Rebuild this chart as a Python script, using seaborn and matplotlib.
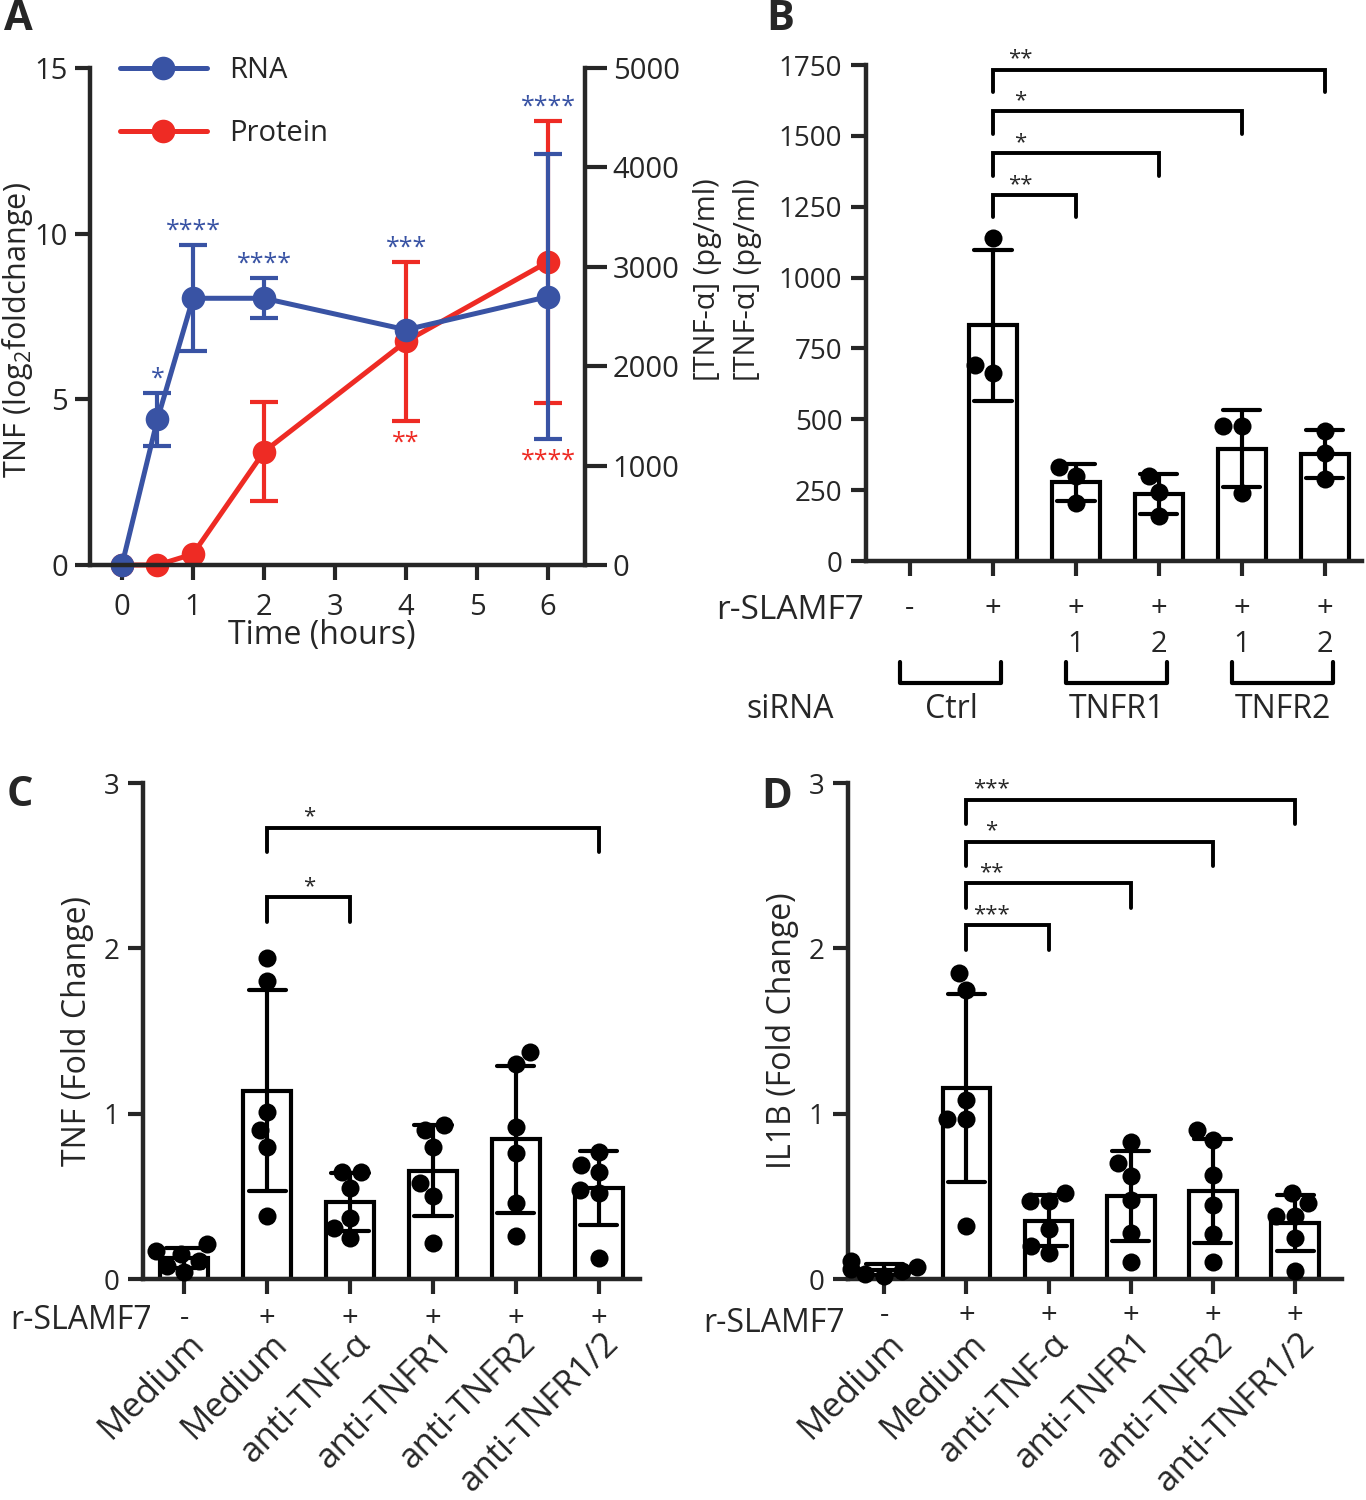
import numpy as np
import pandas as pd
import matplotlib
matplotlib.use("Agg")
import matplotlib.pyplot as plt
import matplotlib.transforms as mtransforms
import seaborn as sns

sns.set_theme(style="ticks")
plt.rcParams['font.family'] = ['Open Sans', 'DejaVu Sans']
plt.rcParams['mathtext.default'] = 'regular'
plt.rcParams['axes.linewidth'] = 3.2

# ---- Panel A: time course ----
time_h = [0, 0.5, 1, 2, 4, 6]
rna_mean = [0, 4.4, 8.05, 8.05, 7.1, 8.1]
rna_sd = [0, 0.8, 1.6, 0.6, 0, 4.3]
rna_stars = ['', '*', '****', '****', '***', '****']
protein_mean = [0, 0, 110, 1140, 2250, 3050]
protein_sd = [0, 0, 0, 500, 800, 1420]
protein_stars = ['', '', '', '', '**', '****']

# ---- Panel B: siRNA knockdown, TNF-a protein ----
b_groups = ['ctrl_neg', 'ctrl_pos', 'tnfr1_1', 'tnfr1_2', 'tnfr2_1', 'tnfr2_2']
b_slamf7 = ['-', '+', '+', '+', '+', '+']
b_sirna_no = ['', '', '1', '2', '1', '2']
b_sirna_groups = [('Ctrl', 0, 1), ('TNFR1', 2, 3), ('TNFR2', 4, 5)]
b_ctrl_pos = [1140, 665, 690]
b_tnfr1_1 = [330, 300, 205]
b_tnfr1_2 = [300, 245, 160]
b_tnfr2_1 = [475, 475, 240]
b_tnfr2_2 = [460, 380, 290]
b_sig = [(1, 2, '**'), (1, 3, '*'), (1, 4, '*'), (1, 5, '**')]

# ---- Panels C / D: blocking antibodies ----
cd_groups = ['Medium', 'Medium ', 'anti-TNF-α', 'anti-TNFR1', 'anti-TNFR2', 'anti-TNFR1/2']
cd_slamf7 = ['-', '+', '+', '+', '+', '+']
c_medium_neg = [0.04, 0.08, 0.11, 0.15, 0.17, 0.21]
c_medium_pos = [1.94, 1.80, 1.01, 0.90, 0.80, 0.38]
c_anti_tnfa = [0.65, 0.65, 0.55, 0.37, 0.31, 0.25]
c_anti_tnfr1 = [0.93, 0.90, 0.80, 0.58, 0.50, 0.22]
c_anti_tnfr2 = [1.37, 1.30, 0.92, 0.76, 0.46, 0.26]
c_anti_tnfr12 = [0.77, 0.69, 0.65, 0.54, 0.52, 0.13]
c_sig = [(1, 2, '*'), (1, 5, '*')]
d_medium_neg = [0.02, 0.03, 0.05, 0.06, 0.07, 0.11]
d_medium_pos = [1.85, 1.75, 1.08, 0.97, 0.97, 0.32]
d_anti_tnfa = [0.52, 0.47, 0.47, 0.30, 0.20, 0.16]
d_anti_tnfr1 = [0.83, 0.70, 0.62, 0.48, 0.28, 0.10]
d_anti_tnfr2 = [0.90, 0.84, 0.63, 0.45, 0.27, 0.10]
d_anti_tnfr12 = [0.52, 0.46, 0.38, 0.38, 0.25, 0.05]
d_sig = [(1, 2, '***'), (1, 3, '**'), (1, 4, '*'), (1, 5, '***')]

BLUE = '#3953a4'
RED = '#ee2b24'
W, H = 1366, 1500


def box(l, t, r, b):
    return [l / W, 1 - b / H, (r - l) / W, (b - t) / H]


def long_df(groups, series):
    rows = []
    for g, vals in zip(groups, series):
        for v in vals:
            rows.append((g, v))
    return pd.DataFrame(rows, columns=['group', 'value'])


def bar_dots(ax, df, order, dot=13):
    sns.barplot(data=df, x='group', y='value', order=order, errorbar='sd',
                capsize=0.45, width=0.58, color='white', edgecolor='black',
                linewidth=3, err_kws={'color': 'black', 'linewidth': 3},
                ax=ax)
    sns.swarmplot(data=df, x='group', y='value', order=order, color='black',
                  size=dot, ax=ax, clip_on=False)
    sns.despine(ax=ax)
    ax.set_xticks(range(len(order)))
    ax.set_xticklabels([])
    ax.set_xlabel('')
    ax.tick_params(axis='both', length=11, width=3, labelsize=20, pad=6)


def sig_brackets(ax, pairs, base, step, leg, star_dx, fs=16):
    for i, (a, b, lab) in enumerate(pairs):
        y = base + i * step
        ax.plot([a, a, b, b], [y - leg, y, y, y - leg], color='black', lw=2.8,
                clip_on=False, solid_joinstyle='miter')
        ax.text(a + star_dx, y, lab, ha='center', va='bottom', fontsize=fs)


fig = plt.figure(figsize=(W / 100, H / 100), dpi=100)

# ================= Panel A =================
axA = fig.add_axes(box(90, 68, 585, 565))
axP = axA.twinx()
axA.set_zorder(axP.get_zorder() + 1)
axA.patch.set_visible(False)

sns.lineplot(x=time_h, y=protein_mean, ax=axP, color=RED, marker='o',
             markersize=17, markeredgewidth=0, linewidth=3.6, clip_on=False,
             label='Protein', legend=False)
pi = [i for i, s in enumerate(protein_sd) if s > 0]
axP.errorbar([time_h[i] for i in pi], [protein_mean[i] for i in pi],
             yerr=[protein_sd[i] for i in pi], fmt='none', ecolor=RED,
             elinewidth=3, capsize=10, capthick=3, clip_on=False)
sns.lineplot(x=time_h, y=rna_mean, ax=axA, color=BLUE, marker='o',
             markersize=17, markeredgewidth=0, linewidth=3.6, clip_on=False,
             label='RNA', legend=False)
ri = [i for i, s in enumerate(rna_sd) if s > 0]
axA.errorbar([time_h[i] for i in ri], [rna_mean[i] for i in ri],
             yerr=[rna_sd[i] for i in ri], fmt='none', ecolor=BLUE,
             elinewidth=3, capsize=10, capthick=3, clip_on=False)

axA.set_xlim(-0.45, 6.52)
axA.set_ylim(0, 15)
axP.set_ylim(0, 5000)
axA.set_xticks(range(7))
axA.set_yticks([0, 5, 10, 15])
axP.set_yticks(range(0, 5001, 1000))
axA.spines['top'].set_visible(False)
axP.spines['top'].set_visible(False)
axA.spines['right'].set_visible(False)
axP.spines['left'].set_visible(False)
axP.spines['bottom'].set_visible(False)
axA.tick_params(axis='both', length=11, width=3, labelsize=21, pad=5)
axA.tick_params(axis='x', pad=9)
axP.tick_params(axis='y', length=16, width=3, labelsize=21, pad=4)
axA.set_xlabel('')
axA.set_ylabel('')
fig.text(322 / W, 1 - 636 / H, 'Time (hours)', ha='center', va='center',
         fontsize=23)
fig.text(18 / W, 1 - 330 / H, 'TNF (log$_2$foldchange)', rotation=90,
         ha='center', va='center', fontsize=22)

scale = 15 / 5000
for t, m, s, pm, ps, lab in zip(time_h, rna_mean, rna_sd, protein_mean,
                                protein_sd, rna_stars):
    if lab:
        top = max(m + s, (pm + ps) * scale)
        axA.annotate(lab, (t, top), xytext=(0, 1), textcoords='offset points',
                     ha='center', va='bottom', color=BLUE, fontsize=18)
for t, m, s, pm, ps, lab in zip(time_h, rna_mean, rna_sd, protein_mean,
                                protein_sd, protein_stars):
    if lab:
        bot = min(m - s, (pm - ps) * scale)
        axA.annotate(lab, (t, bot), xytext=(0, -7), textcoords='offset points',
                     ha='center', va='top', color=RED, fontsize=18)

handles = [axA.get_lines()[0], axP.get_lines()[0]]
axA.legend(handles, ['RNA', 'Protein'], loc='upper left',
           bbox_to_anchor=(0.06, 1.024), frameon=False, fontsize=21,
           handlelength=3.0, handletextpad=0.75, labelspacing=1.17,
           borderaxespad=0, borderpad=0)

fig.text(708 / W, 1 - 280 / H, '[TNF-α] (pg/ml)', rotation=90, ha='center',
         va='center', fontsize=21)

# ================= Panel B =================
axB = fig.add_axes(box(866, 65, 1362, 561))
df_b = long_df(b_groups[1:], [b_ctrl_pos, b_tnfr1_1, b_tnfr1_2, b_tnfr2_1,
                              b_tnfr2_2])
bar_dots(axB, df_b, b_groups)
axB.set_ylim(0, 1750)
axB.set_yticks(range(0, 1751, 250))
axB.set_xlim(-0.53, 5.45)
axB.set_ylabel('')
sig_brackets(axB, b_sig, base=1290, step=148, leg=78, star_dx=0.33)
fig.text(748 / W, 1 - 280 / H, '[TNF-α] (pg/ml)', rotation=90, ha='center',
         va='center', fontsize=21)

trB = mtransforms.blended_transform_factory(axB.transData, axB.transAxes)
for i, (s, n) in enumerate(zip(b_slamf7, b_sirna_no)):
    axB.text(i, -0.095, s, transform=trB, ha='center', va='center', fontsize=21)
    if n:
        axB.text(i, -0.169, n, transform=trB, ha='center', va='center',
                 fontsize=21)
for lab, a, b in b_sirna_groups:
    axB.plot([a - 0.12, a - 0.12, b + 0.1, b + 0.1],
             [-0.204, -0.246, -0.246, -0.204], transform=trB, color='black',
             lw=3, clip_on=False)
    axB.text((a + b) / 2, -0.30, lab, transform=trB, ha='center', va='center',
             fontsize=23)
axB.text(-0.153, -0.10, 'r-SLAMF7', transform=axB.transAxes, ha='center',
         va='center', fontsize=24)
axB.text(-0.153, -0.30, 'siRNA', transform=axB.transAxes, ha='center',
         va='center', fontsize=23)


# ================= Panels C and D =================
def cd_panel(ax, series, ylabel, pairs, base, step, star_dx, sign_y):
    df = long_df(cd_groups, series)
    bar_dots(ax, df, cd_groups)
    ax.set_ylim(0, 3)
    ax.set_yticks([0, 1, 2, 3])
    ax.set_ylabel(ylabel, fontsize=23, labelpad=7)
    sig_brackets(ax, pairs, base=base, step=step, leg=0.15, star_dx=star_dx)
    tr = mtransforms.blended_transform_factory(ax.transData, ax.transAxes)
    for i, (s, g) in enumerate(zip(cd_slamf7, cd_groups)):
        ax.text(i, sign_y, s, transform=tr, ha='center', va='center',
                fontsize=21)
        ax.text(i + 0.18, -0.12, g.strip(), transform=tr, ha='right',
                va='center', rotation=45, rotation_mode='anchor', fontsize=25)


axC = fig.add_axes(box(143, 783, 640, 1279))
cd_panel(axC, [c_medium_neg, c_medium_pos, c_anti_tnfa, c_anti_tnfr1,
               c_anti_tnfr2, c_anti_tnfr12], 'TNF (Fold Change)', c_sig,
         base=2.31, step=0.42, star_dx=0.5, sign_y=-0.079)
axC.set_xlim(-0.5, 5.5)
axC.text(-0.125, -0.083, 'r-SLAMF7', transform=axC.transAxes, ha='center',
         va='center', fontsize=23)

axD = fig.add_axes(box(848, 783, 1342, 1279))
cd_panel(axD, [d_medium_neg, d_medium_pos, d_anti_tnfa, d_anti_tnfr1,
               d_anti_tnfr2, d_anti_tnfr12], 'IL1B (Fold Change)', d_sig,
         base=2.14, step=0.253, star_dx=0.3, sign_y=-0.073)
axD.set_xlim(-0.44, 5.57)
axD.text(-0.15, -0.089, 'r-SLAMF7', transform=axD.transAxes, ha='center',
         va='center', fontsize=23)

# panel letters
for lab, x, y in [('A', 18, 19), ('B', 780, 19), ('C', 20, 795),
                  ('D', 777, 797)]:
    fig.text(x / W, 1 - y / H, lab, ha='center', va='center', fontsize=30,
             fontweight='bold')

fig.savefig('out.png', dpi=100, facecolor='white')
